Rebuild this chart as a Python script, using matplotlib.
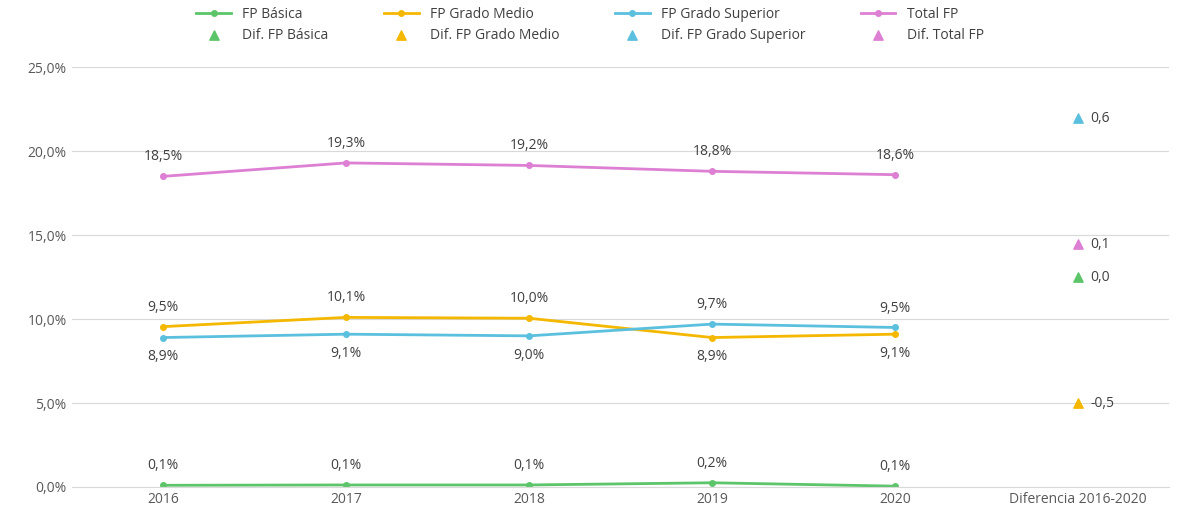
import numpy as np
import matplotlib.pyplot as plt

plt.rcParams['font.family'] = ['Open Sans', 'DejaVu Sans']

years = ["2016", "2017", "2018", "2019", "2020"]
xlabels = years + ["Diferencia 2016-2020"]

basica = [0.1, 0.12, 0.12, 0.25, 0.05]
medio = [9.55, 10.1, 10.05, 8.9, 9.1]
superior = [8.9, 9.1, 9.0, 9.7, 9.5]
total = [18.5, 19.3, 19.15, 18.8, 18.6]

basica_lbl = ["0,1%", "0,1%", "0,1%", "0,2%", "0,1%"]
medio_lbl = ["9,5%", "10,1%", "10,0%", "8,9%", "9,1%"]
superior_lbl = ["8,9%", "9,1%", "9,0%", "9,7%", "9,5%"]
total_lbl = ["18,5%", "19,3%", "19,2%", "18,8%", "18,6%"]

# differences 2016-2020 (secondary axis)
dif_names = ["Dif. FP Básica", "Dif. FP Grado Medio", "Dif. FP Grado Superior", "Dif. Total FP"]
dif_vals = [0.0, -0.5, 0.63, 0.13]
dif_lbl = ["0,0", "-0,5", "0,6", "0,1"]

colors = ["#5cc56a", "#f5b800", "#5bc0de", "#dd7fd3"]
names = ["FP Básica", "FP Grado Medio", "FP Grado Superior", "Total FP"]
series = [basica, medio, superior, total]
labels = [basica_lbl, medio_lbl, superior_lbl, total_lbl]
# label above (+) or below (-)
pos = [[1] * 5, [1, 1, 1, -1, -1], [-1, -1, -1, 1, 1], [1] * 5]

fig = plt.figure(figsize=(11.8, 5.28), dpi=100)
ax = fig.add_axes([0.0606, 0.0777, 0.9305, 0.795])
x = np.arange(5)
line_h = []
for s, c, n, lb, p in zip(series, colors, names, labels, pos):
    h, = ax.plot(x, s, color=c, lw=2, marker='o', ms=4, label=n)
    line_h.append(h)
    for xi, yi, t, pi in zip(x, s, lb, p):
        ax.annotate(t, (xi, yi), xytext=(0, 14 * pi), textcoords='offset points',
                    ha='center', va='center', fontsize=10, color='#404040')

ax.set_xlim(-0.5, 5.5)
ax.set_ylim(0, 25)
ax.set_yticks(np.arange(0, 26, 5))
ax.set_yticklabels([f"{v:.1f}%".replace('.', ',') for v in np.arange(0, 26, 5)])
ax.set_xticks(range(6))
ax.set_xticklabels(xlabels)
ax.grid(axis='y', color='#d9d9d9', lw=0.8)
ax.set_axisbelow(True)
for sp in ['top', 'right', 'left']:
    ax.spines[sp].set_visible(False)
ax.spines['bottom'].set_color('#d9d9d9')
ax.tick_params(length=0, labelsize=10, colors='#595959')

ax2 = ax.twinx()
ax2.set_ylim(-0.8333, 0.8333)
ax2.axis('off')
dif_h = []
for v, c, n, t in zip(dif_vals, colors, dif_names, dif_lbl):
    h = ax2.scatter([5], [v], marker='^', color=c, s=45, label=n, zorder=3)
    dif_h.append(h)
    ax2.annotate(t, (5, v), xytext=(9, 0), textcoords='offset points',
                 ha='left', va='center', fontsize=10, color='#404040')
ax2.set_xlim(-0.5, 5.5)

# legend fills column by column, interleave so rows are lines / differences
handles = []
for lh, dh in zip(line_h, dif_h):
    handles += [lh, dh]
fig.legend(handles=handles, loc='upper center', bbox_to_anchor=(0.5, 1.01), ncol=4,
           frameon=False, fontsize=10, handlelength=2.5, columnspacing=4,
           labelspacing=0.4, labelcolor='#404040')
fig.savefig("out.png", dpi=100)
